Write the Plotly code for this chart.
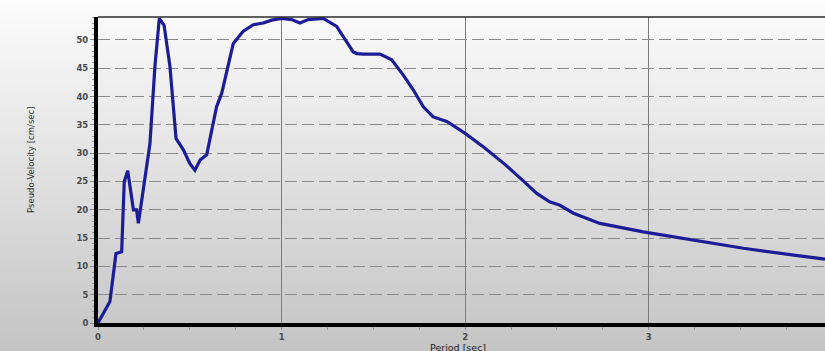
import plotly.graph_objects as go

# Pseudo-velocity response spectrum
period = [0.0, 0.065, 0.098, 0.129, 0.143, 0.162, 0.193, 0.21, 0.22, 0.256, 0.283,
          0.31, 0.334, 0.36, 0.392, 0.425, 0.465, 0.50, 0.528, 0.556, 0.592, 0.646,
          0.674, 0.737, 0.79, 0.846, 0.90, 0.946, 1.0, 1.055, 1.10, 1.145, 1.227,
          1.30, 1.39, 1.41, 1.445, 1.536, 1.60, 1.663, 1.717, 1.772, 1.826, 1.90,
          2.0, 2.10, 2.21, 2.30, 2.39, 2.46, 2.516, 2.59, 2.68, 2.734, 2.97, 3.24,
          3.515, 3.79, 3.96]
velocity = [0.0, 3.8, 12.3, 12.6, 25.0, 26.9, 20.0, 20.0, 17.6, 26.1, 31.7,
            45.3, 53.8, 52.6, 45.3, 32.6, 30.6, 28.2, 27.0, 28.8, 29.7, 38.2,
            40.6, 49.4, 51.5, 52.7, 53.0, 53.5, 53.8, 53.6, 53.0, 53.6, 53.8,
            52.4, 47.9, 47.6, 47.5, 47.5, 46.5, 43.8, 41.2, 38.2, 36.4, 35.6,
            33.5, 31.1, 28.2, 25.6, 22.9, 21.4, 20.8, 19.4, 18.2, 17.6, 16.1, 14.7,
            13.2, 12.0, 11.3]

x_ticks = [0, 1, 2, 3]
y_ticks = [0, 5, 10, 15, 20, 25, 30, 35, 40, 45, 50]

W, H = 825, 351
L, R, T, B = 98, 0, 17, 28
plot_w = W - L - R
plot_h = H - T - B

fig = go.Figure()
fig.add_trace(go.Scatter(
    x=period, y=velocity, mode="lines",
    line=dict(color="#1c1c96", width=3.2),
    hoverinfo="skip", showlegend=False,
))

# vertical grey gradient behind the whole chart
shapes = []
n = 70
top_c, bot_c = 252, 196
for i in range(n):
    py0 = H * i / n
    py1 = H * (i + 1) / n + 1
    c = round(top_c + (bot_c - top_c) * (i + 0.5) / n)
    shapes.append(dict(
        type="rect", xref="paper", yref="paper", layer="below",
        x0=-L / plot_w - 0.01, x1=1.01,
        y0=(H - B - py1) / plot_h, y1=(H - B - py0) / plot_h,
        fillcolor=f"rgb({c},{c},{c})", line=dict(width=0),
    ))
# thin frame line along the top of the plot area
shapes.append(dict(type="line", xref="paper", yref="paper", layer="above",
                   x0=0, x1=1, y0=1, y1=1, line=dict(color="#2a2a2a", width=1.5)))

tick_font = dict(family="DejaVu Sans", size=8.5, color="#4a4a4a", weight="bold")

annotations = [
    dict(text="Period [sec]", xref="paper", yref="paper",
         x=(458 - L) / plot_w, y=(H - B - 347) / plot_h,
         xanchor="center", yanchor="middle", showarrow=False,
         font=dict(family="DejaVu Sans", size=9.5, color="#222222")),
    dict(text="Pseudo-Velocity [cm/sec]", xref="paper", yref="paper",
         x=(30 - L) / plot_w, y=(H - B - 160) / plot_h,
         xanchor="center", yanchor="middle", textangle=-90, showarrow=False,
         font=dict(family="Liberation Sans Narrow, DejaVu Sans Condensed, Liberation Sans",
                   size=9.5, color="#333333")),
]

fig.update_layout(
    width=W, height=H,
    margin=dict(l=L, r=R, t=T, b=B),
    paper_bgcolor="rgb(196,196,196)",
    plot_bgcolor="rgba(0,0,0,0)",
    shapes=shapes,
    annotations=annotations,
    xaxis=dict(
        range=[0, 3.96], tickmode="array", tickvals=x_ticks,
        ticktext=[str(v) for v in x_ticks],
        showline=True, linecolor="black", linewidth=4,
        showgrid=True, gridcolor="#7a7a7a", gridwidth=1,
        ticks="outside", ticklen=3, tickcolor="#8a8a8a",
        minor=dict(dtick=0.25, ticks="outside", ticklen=3, tickcolor="#9a9a9a", showgrid=False),
        tickfont=tick_font, zeroline=False,
    ),
    yaxis=dict(
        range=[0, 54.06], tickmode="array", tickvals=y_ticks,
        ticktext=[str(v) for v in y_ticks],
        showline=True, linecolor="black", linewidth=4,
        showgrid=True, gridcolor="#8a8a8a", gridwidth=1, griddash="12px,5px",
        ticks="outside", ticklen=4, tickcolor="#8a8a8a",
        minor=dict(dtick=1, ticks="outside", ticklen=2, tickcolor="#9a9a9a", showgrid=False),
        tickfont=tick_font, zeroline=False,
    ),
)

fig.write_html("out.html")
